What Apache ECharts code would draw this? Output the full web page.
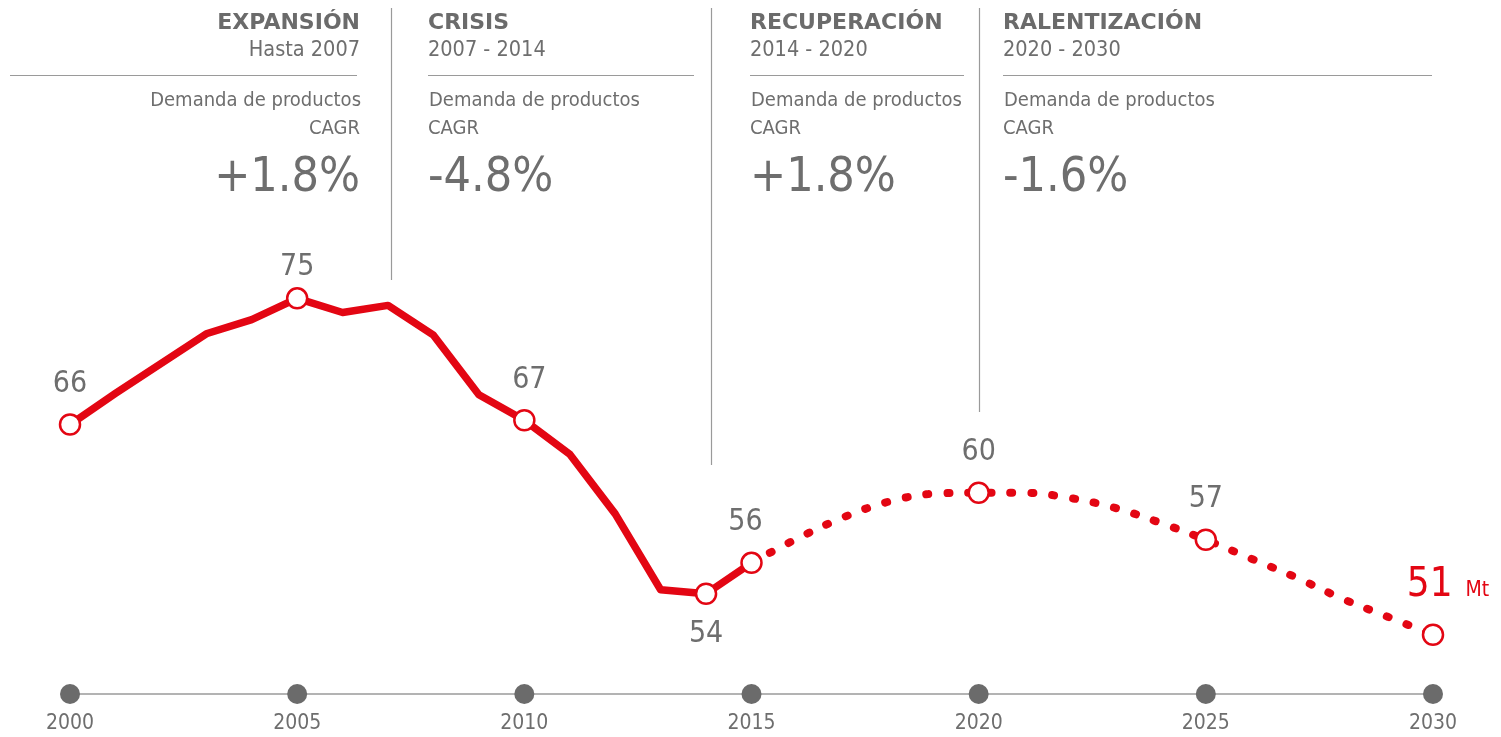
<!DOCTYPE html>
<html><head><meta charset="utf-8">
<script src="https://cdn.jsdelivr.net/npm/echarts@6/dist/echarts.min.js"></script>
<style>html,body{margin:0;padding:0;background:#fff}#c{width:1501px;height:737px}</style>
</head><body><div id="c"></div>
<script>
// ---- data ----
const histYears  = [2000,2001,2002,2003,2004,2005,2006,2007,2008,2009,2010,2011,2012,2013,2014,2015];
const histValues = [66.0,68.2,70.3,72.4,73.4,74.9,73.9,74.4,72.3,68.1,66.3,63.9,59.7,54.35,54.07,56.25];
const projYears  = [2015,2016,2017,2018,2019,2020,2021,2022,2023,2024,2025,2026,2027,2028,2029,2030];
const projValues = [56.25,57.95,59.43,60.55,61.12,61.19,61.19,60.83,60.13,59.07,57.88,56.54,55.2,53.72,52.45,51.18];
const tickYears  = [2000,2005,2010,2015,2020,2025,2030];
const keyYears   = [2000,2005,2010,2014,2015,2020,2025,2030];
const keyLabels  = ['66','75','67','54','56','60','57','51'];
const unitLabel  = 'Mt';
const phaseTitles = ['EXPANSIÓN','CRISIS','RECUPERACIÓN','RALENTIZACIÓN'];
const phaseRanges = ['Hasta 2007','2007 - 2014','2014 - 2020','2020 - 2030'];
const phaseMetric = ['Demanda de productos','CAGR'];
const phaseCagr   = ['+1.8%','-4.8%','+1.8%','-1.6%'];
const phaseBounds = [2007, 2014, 2020];

// ---- style ----
const RED = '#e30613', GREY = '#6e6e6e', LINEGREY = '#9a9a9a';
const FF = "'DejaVu Sans Condensed','DejaVu Sans',sans-serif";
const FFB = "'DejaVu Sans',sans-serif";

function valueAt(y) {
  let i = histYears.indexOf(y);
  if (i >= 0) return histValues[i];
  return projValues[projYears.indexOf(y)];
}

const chart = echarts.init(document.getElementById('c'), null, {renderer: 'canvas'});

const keyData = keyYears.map((y, i) => {
  const item = {value: [y, valueAt(y)], label: {formatter: keyLabels[i]}};
  if (y === 2014) item.label.position = 'bottom';
  if (y === 2005) item.label.offset = [0, 9];
  if (y === 2010) item.label.offset = [5, 0];
  if (y === 2015) item.label.offset = [-6, 0];
  if (y === 2030) {
    item.label = {
      formatter: '{big|' + keyLabels[i] + '}{unit|' + unitLabel + '}',
      offset: [15, -4],
      rich: {
        big: {fontSize: 40, color: RED, fontFamily: FF, verticalAlign: 'bottom', lineHeight: 44},
        unit: {fontSize: 21, color: RED, fontFamily: FF, verticalAlign: 'bottom', lineHeight: 44, padding: [0,0,4,13]}
      }
    };
  }
  return item;
});

chart.setOption({
  animation: false,
  grid: {left: 70, right: 68, top: 226, bottom: 43, containLabel: false},
  xAxis: {
    type: 'value', min: 2000, max: 2030, interval: 5,
    axisLine: {show: true, lineStyle: {color: LINEGREY, width: 1.5}},
    axisTick: {show: false}, splitLine: {show: false},
    axisLabel: {formatter: v => String(v), fontSize: 21, color: GREY, fontFamily: FF, margin: 19}
  },
  yAxis: {type: 'value', min: 47, max: 80, show: false},
  series: [
    {
      type: 'scatter', data: tickYears.map(y => [y, 47]), symbolSize: 20,
      itemStyle: {color: '#6b6b6b', opacity: 1}, z: 3, clip: false, silent: true
    },
    {
      type: 'line', data: histYears.map((y, i) => [y, histValues[i]]), showSymbol: false,
      lineStyle: {color: RED, width: 7.5, join: 'round', cap: 'round'}, z: 4, clip: false
    },
    {
      type: 'line', data: projYears.map((y, i) => [y, projValues[i]]), showSymbol: false, smooth: 0.35,
      lineStyle: {color: RED, width: 8, type: [2, 19], cap: 'round'}, z: 4, clip: false
    },
    {
      type: 'scatter', data: keyData, symbol: 'circle', symbolSize: 20, z: 6, clip: false,
      itemStyle: {color: '#fff', borderColor: RED, borderWidth: 2.5, opacity: 1},
      label: {show: true, position: 'top', distance: 14, fontSize: 30, color: GREY, fontFamily: FF, opacity: 1}
    }
  ]
});

// ---- decorations: phase separators and headers ----
const g = [];
const sepBottoms = [280, 465, 412];
const sepNudge = [3, 5, 0];
phaseBounds.forEach((yr, i) => {
  const x = Math.round(chart.convertToPixel({gridIndex: 0}, [yr, 60])[0]) + sepNudge[i] + 0.5;
  g.push({type: 'line', shape: {x1: x, y1: 8, x2: x, y2: sepBottoms[i]}, style: {stroke: LINEGREY, lineWidth: 1.2}, silent: true});
});
const panels = [
  {x: 360, align: 'right', r1: 10, r2: 357},
  {x: 428, align: 'left', r1: 428, r2: 694},
  {x: 750, align: 'left', r1: 750, r2: 964},
  {x: 1003, align: 'left', r1: 1003, r2: 1432}
];
function txt(text, x, y, font, align, color) {
  return {type: 'text', silent: true, style: {text, x, y, font, fill: color || GREY, textAlign: align, textVerticalAlign: 'middle', verticalAlign: 'middle'}};
}
panels.forEach((p, i) => {
  g.push(txt(phaseTitles[i], p.x, 23, 'bold 22px ' + FFB, p.align, '#6b6b6b'));
  g.push(txt(phaseRanges[i], p.x, 50, '21.5px ' + FF, p.align));
  g.push({type: 'line', silent: true, shape: {x1: p.r1, y1: 75.5, x2: p.r2, y2: 75.5}, style: {stroke: LINEGREY, lineWidth: 1.2}});
  g.push(txt(phaseMetric[0], p.x + 1, 101, '20px ' + FF, p.align));
  g.push(txt(phaseMetric[1], p.x, 129, '20px ' + FF, p.align));
  g.push(txt(phaseCagr[i], p.x, 179, '48px ' + FF, p.align));
});
chart.setOption({graphic: g});
</script>
</body></html>
